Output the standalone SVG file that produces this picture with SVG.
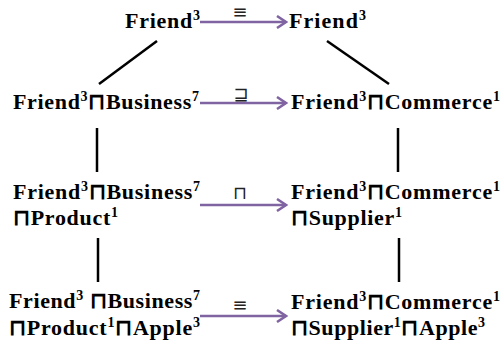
<svg xmlns="http://www.w3.org/2000/svg" width="502" height="354" viewBox="0 0 502 354">
<style>
.t{font-family:'Liberation Serif','Times New Roman',serif;font-weight:700;font-size:22px;fill:#000}
.s{font-size:14px}
.op{font-family:'DejaVu Sans',sans-serif;font-size:18px;fill:#222;text-anchor:middle}
.ln{stroke:#000;stroke-width:2.5;fill:none}
.ar{stroke:#8064A2;stroke-width:2.5;fill:none;marker-end:url(#ah)}
</style>
<defs>
<marker id="ah" markerWidth="12" markerHeight="14" refX="10" refY="7" orient="auto" markerUnits="userSpaceOnUse">
<path d="M1,1 L10,7 L1,13" fill="none" stroke="#8064A2" stroke-width="2.5"/>
</marker>
</defs>
<rect width="502" height="354" fill="#fff"/>
<g id="connectors">
<line class="ln" x1="157" y1="41" x2="99" y2="84"/>
<line class="ln" x1="327" y1="41" x2="389" y2="84"/>
<line class="ln" x1="97" y1="128" x2="97" y2="172"/>
<line class="ln" x1="398" y1="128" x2="398" y2="172"/>
<line class="ln" x1="98" y1="238" x2="98" y2="282"/>
<line class="ln" x1="399" y1="238" x2="399" y2="282"/>
<line class="ar" x1="200" y1="22" x2="286" y2="22"/>
<line class="ar" x1="200" y1="103" x2="286" y2="103"/>
<line class="ar" x1="200" y1="205" x2="286" y2="205"/>
<line class="ar" x1="200" y1="316" x2="286" y2="316"/>
<text class="op" x="240" y="18">≡</text>
<text class="op" x="241" y="100">⊒</text>
<text class="op" x="240" y="199">⊓</text>
<text class="op" x="240" y="311">≡</text>
</g>
<g id="n1l"><text class="t" x="125" y="28" textLength="75">Friend<tspan class="s" dy="-8">3</tspan></text></g>
<g id="n1r"><text class="t" x="289" y="28" textLength="77">Friend<tspan class="s" dy="-8">3</tspan></text></g>
<g id="n2l"><text class="t" x="13" y="109" textLength="186">Friend<tspan class="s" dy="-8">3</tspan><tspan dy="8">⊓Business</tspan><tspan class="s" dy="-8">7</tspan></text></g>
<g id="n2r"><text class="t" x="291" y="109" textLength="209">Friend<tspan class="s" dy="-8">3</tspan><tspan dy="8">⊓Commerce</tspan><tspan class="s" dy="-8">1</tspan></text></g>
<g id="n3l">
<text class="t" x="13" y="199" textLength="187">Friend<tspan class="s" dy="-8">3</tspan><tspan dy="8">⊓Business</tspan><tspan class="s" dy="-8">7</tspan></text>
<text class="t" x="13" y="225" textLength="105">⊓Product<tspan class="s" dy="-8">1</tspan></text>
</g>
<g id="n3r">
<text class="t" x="291" y="199" textLength="209">Friend<tspan class="s" dy="-8">3</tspan><tspan dy="8">⊓Commerce</tspan><tspan class="s" dy="-8">1</tspan></text>
<text class="t" x="291" y="225" textLength="111">⊓Supplier<tspan class="s" dy="-8">1</tspan></text>
</g>
<g id="n4l">
<text class="t" x="9" y="308" textLength="191">Friend<tspan class="s" dy="-8">3</tspan><tspan dy="8"> ⊓Business</tspan><tspan class="s" dy="-8">7</tspan></text>
<text class="t" x="9" y="335" textLength="191">⊓Product<tspan class="s" dy="-8">1</tspan><tspan dy="8">⊓Apple</tspan><tspan class="s" dy="-8">3</tspan></text>
</g>
<g id="n4r">
<text class="t" x="291" y="309" textLength="209">Friend<tspan class="s" dy="-8">3</tspan><tspan dy="8">⊓Commerce</tspan><tspan class="s" dy="-8">1</tspan></text>
<text class="t" x="291" y="335" textLength="194">⊓Supplier<tspan class="s" dy="-8">1</tspan><tspan dy="8">⊓Apple</tspan><tspan class="s" dy="-8">3</tspan></text>
</g>
</svg>
